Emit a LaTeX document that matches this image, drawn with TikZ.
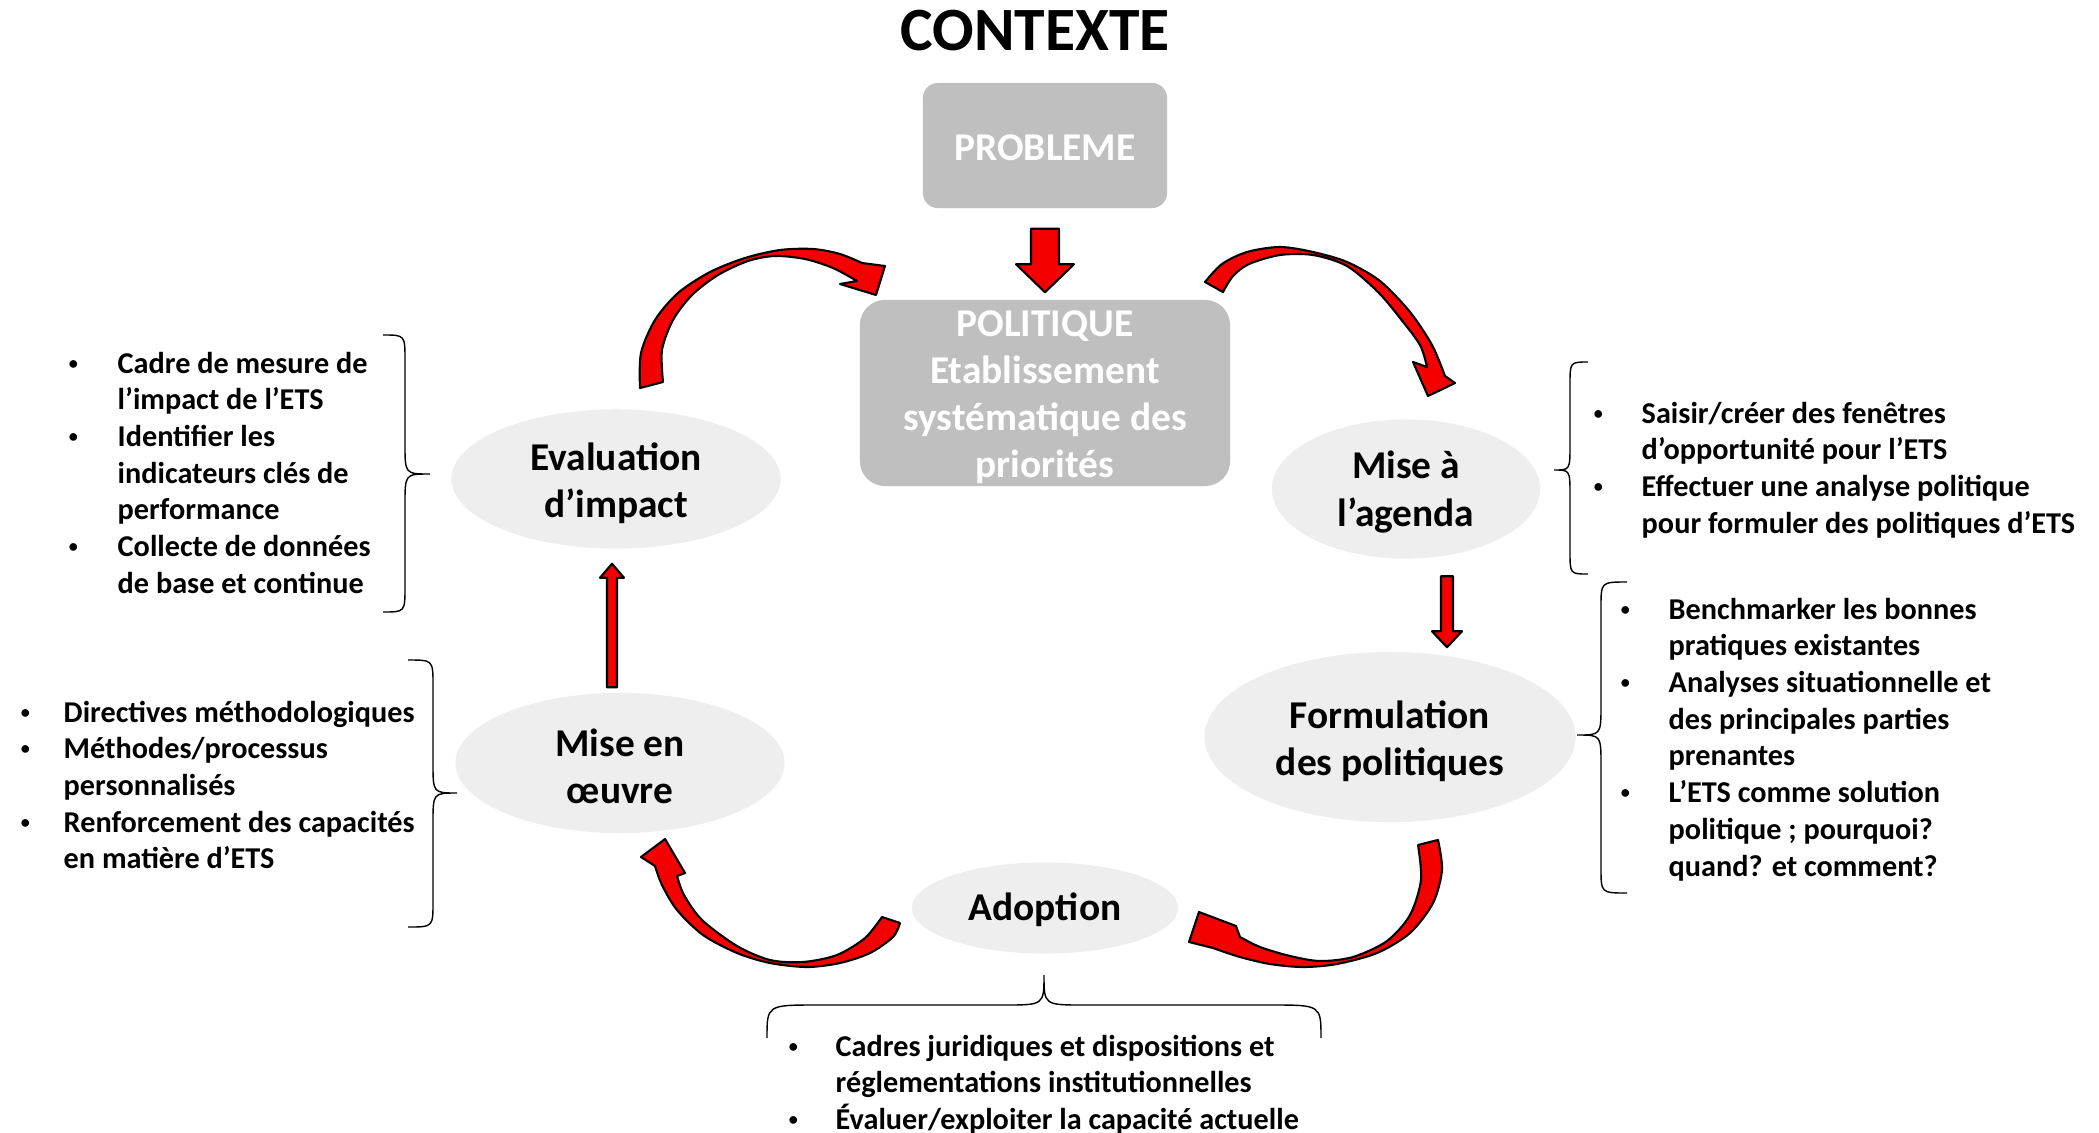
\documentclass[tikz,border=0pt]{standalone}
\usepackage{fontspec}
\setmainfont{Carlito}
\usetikzlibrary{shapes.geometric,calc}
\definecolor{boxgray}{HTML}{BFBFBF}
\definecolor{ellgray}{HTML}{EEEEEE}
\definecolor{arrred}{HTML}{F50000}
\tikzset{
  pbox/.style={rectangle, rounded corners=0.15cm, fill=boxgray, inner sep=0},
  boxtext/.style={text=white, inner sep=0, align=center, font=\fontsize{11.2}{13.4}\selectfont\bfseries},
  stage/.style={ellipse, fill=ellgray, inner sep=0},
  stagetext/.style={inner sep=0, align=center, font=\fontsize{11.2}{13.4}\selectfont\bfseries},
  carrow/.style={fill=arrred, draw=black, line width=0.6pt, line join=round},
  brc/.style={draw=black, line width=0.4pt},
  blist/.style={anchor=base west, inner sep=0, font=\fontsize{8.6}{10.44}\selectfont\bfseries},
}
\newcommand\bul{\hspace*{0.9pt}\raisebox{1.1pt}{\scalebox{0.6}{\textbullet}}}
% vertical fat arrow: #1 start, #2 tip, #3 shaft half width, #4 head half width, #5 offset tip->head base
\newcommand\vfat[5]{\filldraw[carrow] ($(#1)+(-#3,0)$) -- ($(#2)+(-#3,#5)$) -- ($(#2)+(-#4,#5)$) -- (#2)
  -- ($(#2)+(#4,#5)$) -- ($(#2)+(#3,#5)$) -- ($(#1)+(#3,0)$) -- cycle;}
\begin{document}
\begin{tikzpicture}[x=0.01cm,y=-0.01cm]
\useasboundingbox[fill=white] (0,0) rectangle (2099,1133);

% title and boxes
\node[anchor=base, font=\fontsize{17.5}{21}\selectfont\bfseries] (title) at (1035,50) {CONTEXTE};
\node[pbox, minimum width=2.44cm, minimum height=1.25cm] (prob) at (1045,145.5) {};
\node[boxtext] (probt) at ($(prob.center)+(0,2)$) {PROBLEME};
\node[pbox, rounded corners=0.25cm, minimum width=3.7cm, minimum height=1.86cm] (pol) at (1045,393) {};
\node[boxtext] (polt) at ($(pol.center)+(0,4)$) {POLITIQUE\\Etablissement\\systématique des\\priorités};

% stages
\node[stage, minimum width=3.29cm, minimum height=1.39cm] (eval) at (616,479) {};
\node[stagetext] (evalt) at ($(eval.center)+(0,4)$) {Evaluation\\d’impact};
\node[stage, minimum width=2.68cm, minimum height=1.39cm] (agenda) at (1406,489) {};
\node[stagetext] (agendat) at ($(agenda.center)+(0,3)$) {Mise à\\l’agenda};
\node[stage, minimum width=3.71cm, minimum height=1.70cm] (form) at (1390,737) {};
\node[stagetext] (formt) at ($(form.center)+(0,4)$) {Formulation\\des politiques};
\node[stage, minimum width=3.29cm, minimum height=1.40cm] (oeuvre) at (620,763) {};
\node[stagetext] (oeuvret) at ($(oeuvre.center)+(0,3)$) {Mise en\\œuvre};
\node[stage, minimum width=2.66cm, minimum height=0.91cm] (adopt) at (1045,908) {};
\node[stagetext] (adoptt) at ($(adopt.center)+(0,2)$) {Adoption};

% straight arrows
\coordinate (s1) at ($(prob.south)+(0,20)$);
\coordinate (t1) at ($(pol.north)+(0,-7)$);
\vfat{s1}{t1}{14}{29}{-28}
\coordinate (s2) at ($(agenda.south)+(41,17)$);
\coordinate (t2) at ($(form.north)+(57,-4)$);
\vfat{s2}{t2}{6}{15}{-16}
\coordinate (s3) at ($(oeuvre.north)+(-8,-5)$);
\coordinate (t3) at ($(eval.south)+(-4,14.5)$);
\vfat{s3}{t3}{5}{12}{14}

% curved arrows
% eval -> politique
\filldraw[carrow] plot[smooth] coordinates {(640,388) (641,353) (655,320) (678,293) (710,272) (745,258) (780,250) (813,249) (840,254) (862,263)}
  -- (885,266) -- (876,295) -- (840,284)
  -- plot[smooth] coordinates {(857,281) (833,268) (805,259) (775,256) (748,261) (718,275) (692,295) (673,320) (662,350) (663,382)} -- cycle;
% politique -> agenda
\filldraw[carrow] plot[smooth] coordinates {(1205,282) (1222,264) (1247,252) (1280,247) (1313,252) (1347,262) (1380,281) (1410,312) (1432,345) (1445,376)}
  -- (1455,383) -- (1428,396) -- (1413,362)
  -- plot[smooth] coordinates {(1427,367) (1420,345) (1400,318) (1378,292) (1347,266) (1313,255) (1280,255) (1249,264) (1233,276) (1223,292)} -- cycle;
% formulation -> adoption
\filldraw[carrow] plot[smooth] coordinates {(1438,840) (1442,870) (1433,903) (1410,933) (1377,953) (1337,964) (1303,967) (1270,964) (1240,957) (1213,948)}
  -- (1189,942) -- (1199,912) -- (1236,926)
  -- plot[smooth] coordinates {(1240,937) (1260,947) (1290,956) (1320,961) (1353,957) (1387,941) (1410,915) (1421,880) (1418,845)} -- cycle;
% adoption -> mise en oeuvre
\filldraw[carrow] plot[smooth] coordinates {(900,923) (893,937) (870,953) (840,963) (807,967) (770,963) (737,953) (703,935) (677,910) (662,885) (655,866)}
  -- (641,857) -- (665,839) -- (685,873)
  -- plot[smooth] coordinates {(677,876) (684,895) (702,920) (737,946) (770,960) (803,962) (837,955) (865,938) (882,917)} -- cycle;

% braces
\draw[brc] (383,335) .. controls (405,335) .. (405,360) -- (405,444) .. controls (405,474) .. (430,474)
  .. controls (405,474) .. (405,504) -- (405,587) .. controls (405,612) .. (383,612);
\draw[brc] (408,660) .. controls (433,660) .. (433,685) -- (433,763) .. controls (433,793) .. (457,793)
  .. controls (433,793) .. (433,823) -- (433,902) .. controls (433,927) .. (408,927);
\draw[brc] (1588,362) .. controls (1570,362) .. (1570,385) -- (1570,445) .. controls (1570,470) .. (1554,470)
  .. controls (1570,470) .. (1570,495) -- (1570,551) .. controls (1570,574) .. (1588,574);
\draw[brc] (1627,582) .. controls (1601,582) .. (1601,607) -- (1601,705) .. controls (1601,735) .. (1577,735)
  .. controls (1601,735) .. (1601,765) -- (1601,868) .. controls (1601,893) .. (1627,893);
\draw[brc] (767,1038) .. controls (767,1005) .. (817,1005) -- (1004,1005) .. controls (1044,1005) .. (1044,975)
  .. controls (1044,1005) .. (1084,1005) -- (1271,1005) .. controls (1321,1005) .. (1321,1038);

% bullet lists
\node[blist] (leval) at (65,373) {\begin{tabular}[t]{@{}p{0.52cm}@{}l@{}}
\bul & Cadre de mesure de\\ & l’impact de l’ETS\\
\bul & Identifier les\\ & indicateurs clés de\\ & performance\\
\bul & Collecte de données\\ & de base et continue\end{tabular}};
\node[blist] (loeuvre) at (17,722) {\begin{tabular}[t]{@{}p{0.46cm}@{}l@{}}
\bul & Directives méthodologiques\\
\bul & Méthodes/processus\\ & personnalisés\\
\bul & Renforcement des capacités\\ & en matière d’ETS\end{tabular}};
\node[blist] (lagenda) at (1590,423) {\begin{tabular}[t]{@{}p{0.51cm}@{}l@{}}
\bul & Saisir/créer des fenêtres\\ & d’opportunité pour l’ETS\\
\bul & Effectuer une analyse politique\\ & pour formuler des politiques d’ETS\end{tabular}};
\node[blist] (lform) at (1617,619) {\begin{tabular}[t]{@{}p{0.51cm}@{}l@{}}
\bul & Benchmarker les bonnes\\ & pratiques existantes\\
\bul & Analyses situationnelle et\\ & des principales parties\\ & prenantes\\
\bul & L’ETS comme solution\\ & politique ; pourquoi?\\ & quand? et comment?\end{tabular}};
\node[blist] (ladopt) at (785,1056) {\begin{tabular}[t]{@{}p{0.5cm}@{}l@{}}
\bul & Cadres juridiques et dispositions et\\ & réglementations institutionnelles\\
\bul & Évaluer/exploiter la capacité actuelle\end{tabular}};
\end{tikzpicture}
\end{document}
